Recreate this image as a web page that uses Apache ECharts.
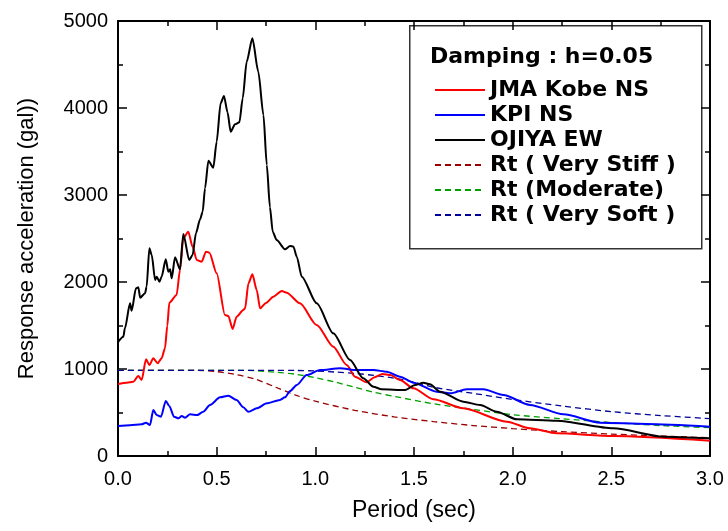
<!DOCTYPE html>
<html>
<head>
<meta charset="utf-8">
<script src="https://cdn.jsdelivr.net/npm/echarts@6/dist/echarts.min.js"></script>
<style>html,body{margin:0;padding:0;background:#fff}#c{width:728px;height:531px}</style>
</head>
<body>
<div id="c"></div>
<script>
// ---- data (period in sec, acceleration in gal) ----
const xTicks = [0, 0.5, 1.0, 1.5, 2.0, 2.5, 3.0];
const yTicks = [0, 1000, 2000, 3000, 4000, 5000];

const kobeT = [0,0.044,0.078,0.103,0.12,0.142,0.159,0.179,0.201,0.221,0.238,0.25,0.26,0.297,0.314,0.331,0.356,0.378,0.399,0.424,0.446,0.463,0.5,0.542,0.559,0.581,0.601,0.635,0.644,0.661,0.681,0.703,0.72,0.75,0.787,0.83,0.855,0.922,1.007,1.091,1.159,1.201,1.26,1.3,1.34,1.38,1.429,1.497,1.598,1.75,1.97,2.088,2.223,2.51,3.0];
const kobeA = [828,843,854,920,874,1111,1046,1123,1065,1123,1238,1500,1762,1851,2138,2502,2578,2406,2253,2234,2349,2337,2100,1621,1609,1460,1601,1678,1697,1985,2088,1908,1697,1760,1831,1897,1877,1755,1506,1256,1046,912,847,905,942,930,874,778,652,548,395,318,261,230,176];

const kpiT = [0,0.061,0.12,0.142,0.162,0.179,0.196,0.218,0.242,0.26,0.284,0.306,0.323,0.34,0.365,0.402,0.432,0.466,0.517,0.559,0.601,0.635,0.661,0.703,0.754,0.821,0.846,0.872,0.906,0.956,1.024,1.125,1.21,1.294,1.362,1.429,1.497,1.615,1.683,1.767,1.852,1.953,2.088,2.257,2.443,2.68,3.0];
const kpiA = [345,353,364,383,356,529,471,452,632,575,452,433,460,440,479,471,509,586,674,693,644,559,509,548,605,644,674,747,816,931,988,1008,988,988,969,912,843,739,720,766,766,701,586,479,383,368,337];

const ojiyaT = [0,0.027,0.035,0.061,0.069,0.091,0.103,0.112,0.137,0.145,0.159,0.171,0.188,0.196,0.21,0.221,0.242,0.255,0.264,0.272,0.289,0.314,0.331,0.361,0.378,0.395,0.416,0.429,0.441,0.458,0.483,0.5,0.52,0.537,0.555,0.571,0.593,0.615,0.632,0.652,0.681,0.711,0.737,0.754,0.77,0.784,0.804,0.846,0.872,0.889,0.906,0.931,1.007,1.091,1.176,1.243,1.294,1.336,1.455,1.505,1.547,1.581,1.632,1.75,1.835,1.919,2.021,2.223,2.51,2.764,3.0];
const ojiyaA = [1310,1371,1467,1755,1670,1927,1939,1820,1870,1946,2387,2310,2023,2061,2003,2061,2261,2118,2146,2042,2284,2146,2552,2253,2310,2560,2720,2808,3077,3394,3314,3613,4054,4138,3950,3728,3812,3835,4111,4532,4801,4417,3919,3345,2860,2578,2483,2376,2414,2406,2291,2061,1755,1410,1103,893,797,766,759,816,843,824,739,624,586,509,422,406,318,222,203];

const stiffT = [0,0.4,0.5,0.6,0.7,0.8,0.9,1.0,1.2,1.4,1.6,1.8,2.0,2.25,2.5,2.75,3.0];
const stiffA = [985,985,970,935,880,790,700,630,525,450,395,350,315,280,252,230,210];

const moderateT = [0,0.6,0.7,0.8,0.9,1.0,1.1,1.2,1.3,1.4,1.6,1.8,2.0,2.25,2.5,2.75,3.0];
const moderateA = [985,985,980,963,940,900,850,790,730,685,600,535,475,428,385,350,325];

const softT = [0,0.8,0.9,1.0,1.1,1.2,1.3,1.4,1.5,1.6,1.8,2.0,2.25,2.5,2.75,3.0];
const softA = [985,985,983,977,965,950,925,895,850,790,720,650,575,510,465,430];

const names = ['JMA Kobe NS','KPI NS','OJIYA EW','Rt ( Very Stiff )','Rt (Moderate)','Rt ( Very Soft )'];

function zip(t, a){ return t.map((v,i)=>[v,a[i]]); }

const chart = echarts.init(document.getElementById('c'), null, {renderer:'canvas'});
const axisFont = {fontFamily:'Liberation Sans, Arial, sans-serif', fontSize:20, color:'#000'};
const axisCommon = {
  axisLine:{show:true, onZero:false, lineStyle:{color:'#000', width:2}},
  axisTick:{show:true, inside:true, length:9, lineStyle:{color:'#000', width:1.5}},
  minorTick:{show:true, splitNumber:2, length:5, lineStyle:{color:'#000', width:1.5}},
  splitLine:{show:false}
};
function solid(name, data, color){
  return {name, type:'line', data, showSymbol:false, symbol:'none', smooth:0.25, smoothMonotone:'x',
    lineStyle:{color, width:2}, itemStyle:{color}, z:3};
}
function dashed(name, data, color){
  return {name, type:'line', data, showSymbol:false, symbol:'none', smooth:0.3,
    lineStyle:{color, width:1.3, type:[6,4]}, itemStyle:{color}, z:2};
}
chart.setOption({
  animation:false,
  backgroundColor:'#fff',
  grid:{left:118, right:18, top:21, bottom:75, containLabel:false, outerBoundsMode:'none'},
  xAxis:[
    Object.assign({type:'value', min:xTicks[0], max:xTicks[xTicks.length-1], interval:0.5, position:'bottom',
      name:'Period (sec)', nameLocation:'middle', nameGap:43,
      nameTextStyle:{fontFamily:'Liberation Sans, Arial, sans-serif', fontSize:23, color:'#000'},
      axisLabel:Object.assign({margin:13, formatter:v=>v.toFixed(1)}, axisFont)}, axisCommon),
    Object.assign({type:'value', min:xTicks[0], max:xTicks[xTicks.length-1], interval:0.5, position:'top',
      axisLabel:{show:false}}, axisCommon)
  ],
  yAxis:[
    Object.assign({type:'value', min:yTicks[0], max:yTicks[yTicks.length-1], interval:1000, position:'left',
      name:'Response acceleration (gal))', nameLocation:'middle', nameGap:80, nameRotate:90,
      nameTextStyle:{fontFamily:'Liberation Sans, Arial, sans-serif', fontSize:22, color:'#000'},
      axisLabel:Object.assign({margin:10, formatter:v=>String(v)}, axisFont)}, axisCommon),
    Object.assign({type:'value', min:yTicks[0], max:yTicks[yTicks.length-1], interval:1000, position:'right',
      axisLabel:{show:false}}, axisCommon)
  ],
  legend:{
    data:names, orient:'vertical', left:429, top:74, itemWidth:50, itemHeight:14, itemGap:3,
    itemStyle:{opacity:0},
    textStyle:{fontFamily:'DejaVu Sans, sans-serif', fontWeight:'bold', fontSize:22, color:'#000'},
    selectedMode:false
  },
  graphic:[
    {type:'rect', left:409, top:25, shape:{width:292, height:223}, style:{fill:'#fff', stroke:'#333', lineWidth:1.5}, z:-1, silent:true},
    {type:'text', left:430, top:46, style:{text:'Damping : h=0.05', font:'bold 22px "DejaVu Sans", sans-serif', fill:'#000'}, z:10, silent:true}
  ],
  series:[
    solid(names[0], zip(kobeT,kobeA), '#ff0000'),
    solid(names[1], zip(kpiT,kpiA), '#0000ff'),
    solid(names[2], zip(ojiyaT,ojiyaA), '#000000'),
    dashed(names[3], zip(stiffT,stiffA), '#990000'),
    dashed(names[4], zip(moderateT,moderateA), '#00a000'),
    dashed(names[5], zip(softT,softA), '#000099')
  ]
});
</script>
</body>
</html>
